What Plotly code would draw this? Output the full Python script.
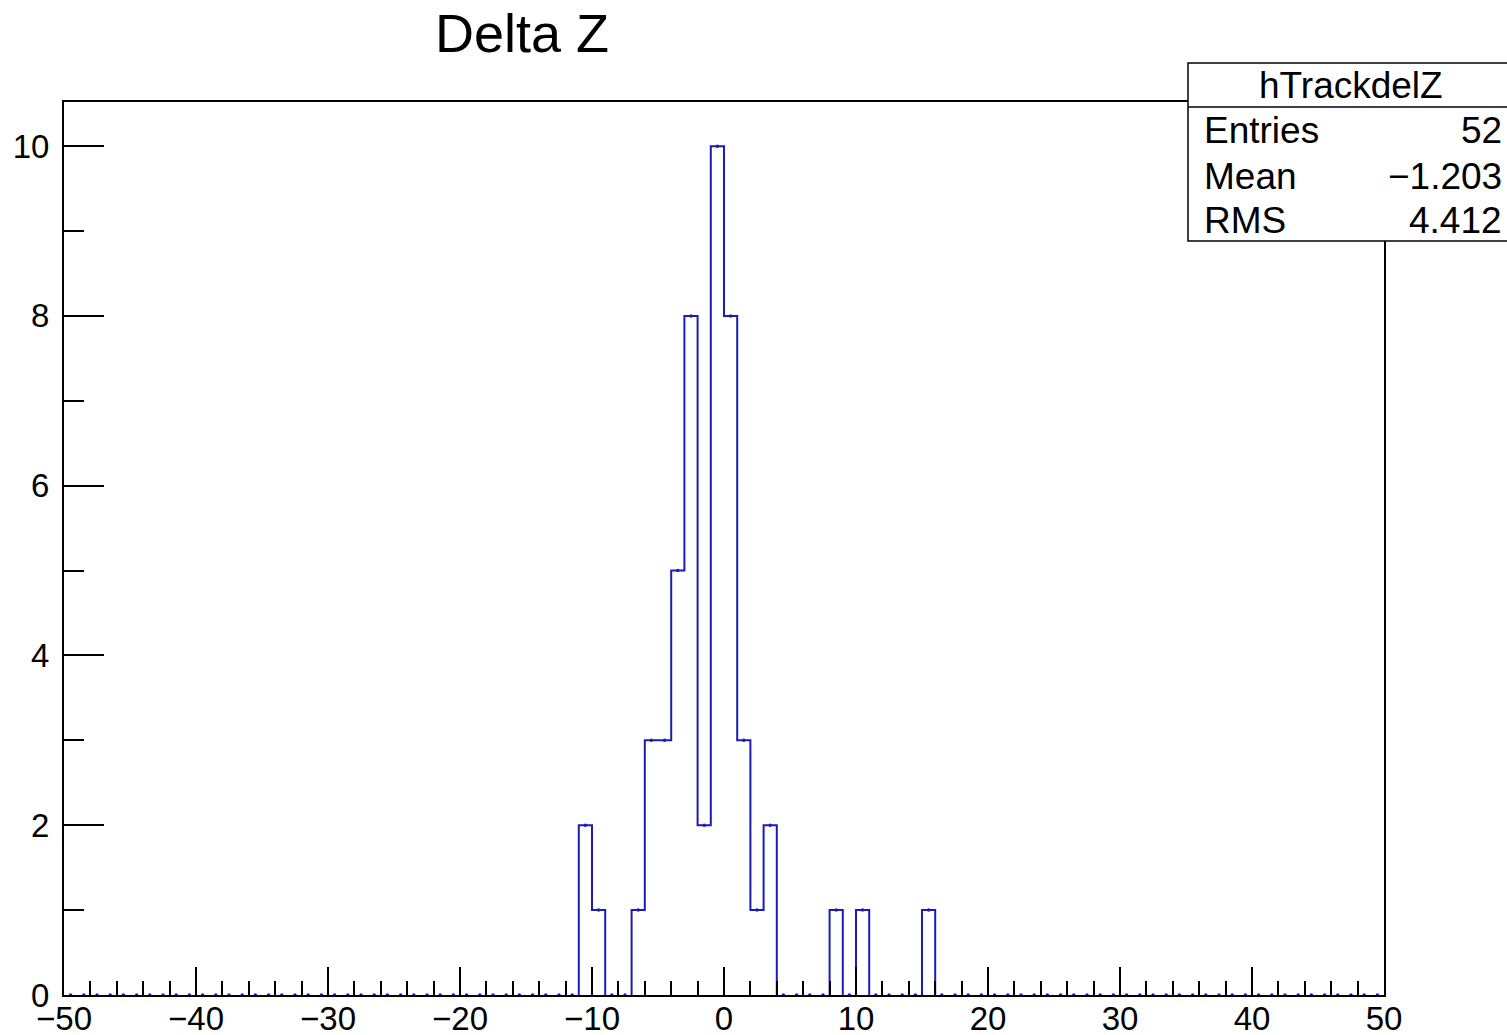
import numpy as np
import plotly.graph_objects as go

# ---- data ----
title_text = "Delta Z"
hist_name = "hTrackdelZ"
x_low, x_high, n_bins = -50, 50, 100
# counts per bin (bins of width 1 from -50 to 50)
counts = [0] * 39 + [2, 1, 0, 0, 1, 3, 3, 5, 8, 2, 10, 8, 3, 1, 2,
                     0, 0, 0, 0, 1, 0, 1, 0, 0, 0, 0, 1] + [0] * 34
stats_labels = ["Entries", "Mean", "RMS"]
stats_values = ["52", "\u22121.203", "4.412"]

edges = np.linspace(x_low, x_high, n_bins + 1)
centers = 0.5 * (edges[:-1] + edges[1:])

# histogram outline (zero-level runs hidden under the axis line, as in ROOT)
step_x, step_y = [], []
prev = 0
for i in range(n_bins):
    c = counts[i]
    if c == 0:
        if prev != 0:
            step_x += [edges[i], None]
            step_y += [0, None]
    else:
        if prev == 0:
            step_x += [edges[i]]
            step_y += [0]
        step_x += [edges[i], edges[i + 1]]
        step_y += [c, c]
    prev = c
if prev != 0:
    step_x += [edges[n_bins]]
    step_y += [0]

blue = "#1c1cb4"
font_family = "Liberation Sans, Arial, Helvetica, sans-serif"

fig = go.Figure()
fig.add_trace(go.Scatter(x=step_x, y=step_y, mode="lines",
                         line=dict(color=blue, width=2), connectgaps=False,
                         hoverinfo="skip", showlegend=False))
fig.add_trace(go.Scatter(x=centers, y=counts, mode="markers",
                         marker=dict(color=blue, size=3.5), cliponaxis=False,
                         hoverinfo="skip", showlegend=False))

W, H = 1507, 1035
L, R, T, B = 64, 1507 - 1384, 102, 40
pw, ph = W - L - R, H - T - B

def px(xp):
    return (xp - L) / pw

def py(yp):
    return (H - B - yp) / ph

fig.update_layout(
    width=W, height=H,
    margin=dict(l=L, r=R, t=T, b=B, autoexpand=False),
    paper_bgcolor="white", plot_bgcolor="white",
    font=dict(family=font_family, color="black", size=33),
    showlegend=False,
    xaxis=dict(range=[x_low, x_high], tickmode="linear", tick0=-50, dtick=10,
               ticks="inside", ticklen=28, tickwidth=1.5, tickcolor="black",
               minor=dict(tickmode="linear", tick0=-50, dtick=2, ticks="inside",
                          ticklen=14, tickwidth=1.5, tickcolor="black"),
               showline=True, linecolor="black", linewidth=2, mirror=True,
               showgrid=False, zeroline=False, ticklabelstandoff=-7,
               tickfont=dict(size=33, family=font_family)),
    yaxis=dict(range=[0, 10.52], tickmode="linear", tick0=0, dtick=2,
               ticks="inside", ticklen=40, tickwidth=1.5, tickcolor="black",
               minor=dict(tickmode="linear", tick0=0, dtick=1, ticks="inside",
                          ticklen=20, tickwidth=1.5, tickcolor="black"),
               showline=True, linecolor="black", linewidth=2, mirror=True,
               showgrid=False, zeroline=False, ticklabelstandoff=6,
               tickfont=dict(size=33, family=font_family)),
)

# title
fig.add_annotation(text=title_text, xref="paper", yref="paper",
                   x=px(522), y=py(33), xanchor="center", yanchor="middle",
                   showarrow=False, font=dict(size=54, family=font_family))

# stats box
fig.add_shape(type="rect", xref="paper", yref="paper",
              x0=px(1188), x1=px(1512), y0=py(241), y1=py(63),
              line=dict(color="black", width=1.5), fillcolor="white", layer="above")
fig.add_shape(type="line", xref="paper", yref="paper",
              x0=px(1188), x1=px(1512), y0=py(107), y1=py(107),
              line=dict(color="black", width=1.5), layer="above")
fig.add_annotation(text=hist_name, xref="paper", yref="paper",
                   x=px(1351), y=py(86), xanchor="center", yanchor="middle",
                   showarrow=False, font=dict(size=37, family=font_family))
row_y = [130, 176, 220]
for lab, val, ry in zip(stats_labels, stats_values, row_y):
    fig.add_annotation(text=lab, xref="paper", yref="paper",
                       x=px(1202), y=py(ry), xanchor="left", yanchor="middle",
                       showarrow=False, font=dict(size=37, family=font_family))
    fig.add_annotation(text=val, xref="paper", yref="paper",
                       x=px(1504), y=py(ry), xanchor="right", yanchor="middle",
                       showarrow=False, font=dict(size=37, family=font_family))

fig.write_html("out.html")
